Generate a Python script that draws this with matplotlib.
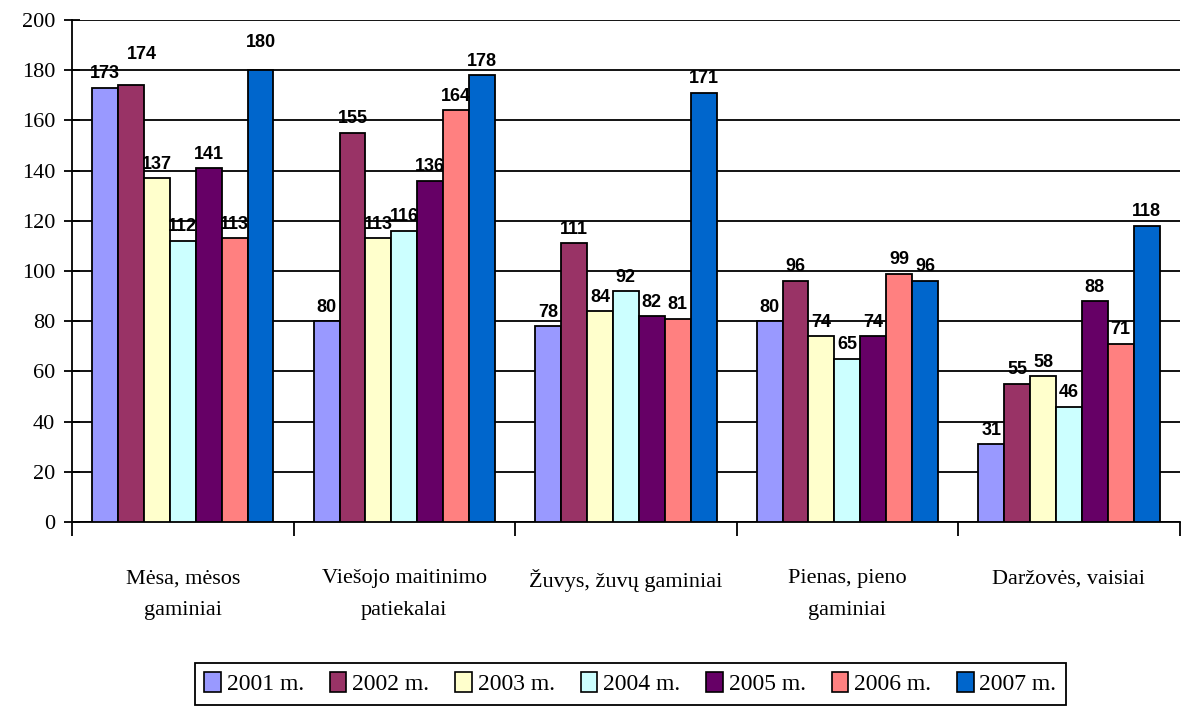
import numpy as np
import matplotlib
matplotlib.use("Agg")
import matplotlib.pyplot as plt
from matplotlib.patches import Patch

# Produktų grupės ir metai
kategorijos = ["Mėsa, mėsos\ngaminiai", "Viešojo maitinimo\npatiekalai",
               "Žuvys, žuvų gaminiai", "Pienas, pieno\ngaminiai",
               "Daržovės, vaisiai"]
metai = ["2001 m.", "2002 m.", "2003 m.", "2004 m.", "2005 m.", "2006 m.", "2007 m."]

# Reikšmės pagal metus (po vieną kiekvienai grupei)
v2001 = [173, 80, 78, 80, 31]
v2002 = [174, 155, 111, 96, 55]
v2003 = [137, 113, 84, 74, 58]
v2004 = [112, 116, 92, 65, 46]
v2005 = [141, 136, 82, 74, 88]
v2006 = [113, 164, 81, 99, 71]
v2007 = [180, 178, 171, 96, 118]
reiksmes = [v2001, v2002, v2003, v2004, v2005, v2006, v2007]

spalvos = ["#9999FF", "#993366", "#FFFFCC", "#CCFFFF", "#660066", "#FF8080", "#0066CC"]

# kai kurios etiketės paslinktos, kad nesiliestų su kaimynėmis
poslinkiai = {(1, 0): (8, 12), (6, 0): (0, 10)}

fig = plt.figure(figsize=(11.94, 7.10), dpi=100)
ax = fig.add_axes([0.0603, 0.2648, 0.9277, 0.707])

x = np.arange(len(kategorijos))
plotis = 0.117
for i, (vals, sp) in enumerate(zip(reiksmes, spalvos)):
    poz = x + (i - 3) * plotis
    ax.bar(poz, vals, width=plotis, color=sp, edgecolor="black", linewidth=1.3, zorder=3)
    for j, (px, v) in enumerate(zip(poz, vals)):
        dx, dy = poslinkiai.get((i, j), (0, 0))
        ax.annotate(str(v), (px, v), textcoords="offset points", xytext=(dx, 4 + dy),
                    ha="center", va="bottom", fontsize=13, fontweight="bold",
                    family="Liberation Sans", zorder=4)

ax.set_xlim(-0.5, len(kategorijos) - 0.5)
ax.set_ylim(0, 200)
ax.set_yticks(range(0, 201, 20))
ax.yaxis.grid(True, color="black", linewidth=1.3, zorder=0)
ax.set_axisbelow(True)

for s in ["top", "right"]:
    ax.spines[s].set_visible(False)
ax.spines["left"].set_linewidth(1.3)
ax.spines["bottom"].set_linewidth(1.3)

ax.tick_params(axis="y", direction="inout", length=12, width=1.3, pad=6,
               labelsize=16)
ax.set_xticks(x)
ax.set_xticklabels(kategorijos, linespacing=1.9)
ax.tick_params(axis="x", which="major", length=0, pad=34, labelsize=16)
ax.set_xticks(np.arange(-0.5, len(kategorijos)), minor=True)
ax.tick_params(axis="x", which="minor", direction="out", length=10, width=1.3)

for lab in ax.get_xticklabels() + ax.get_yticklabels():
    lab.set_family("Liberation Serif")

rankenos = [Patch(facecolor=sp, edgecolor="black", linewidth=1.2) for sp in spalvos]
leg = fig.legend(rankenos, metai, loc="center", bbox_to_anchor=(0.528, 0.037),
                 ncol=7, fancybox=False, edgecolor="black", framealpha=1,
                 handlelength=0.7, handleheight=0.9, handletextpad=0.25,
                 columnspacing=1.1, borderpad=0.4,
                 prop={"family": "Liberation Serif", "size": 17})
leg.get_frame().set_linewidth(1.3)

fig.savefig("out.png", dpi=100)
